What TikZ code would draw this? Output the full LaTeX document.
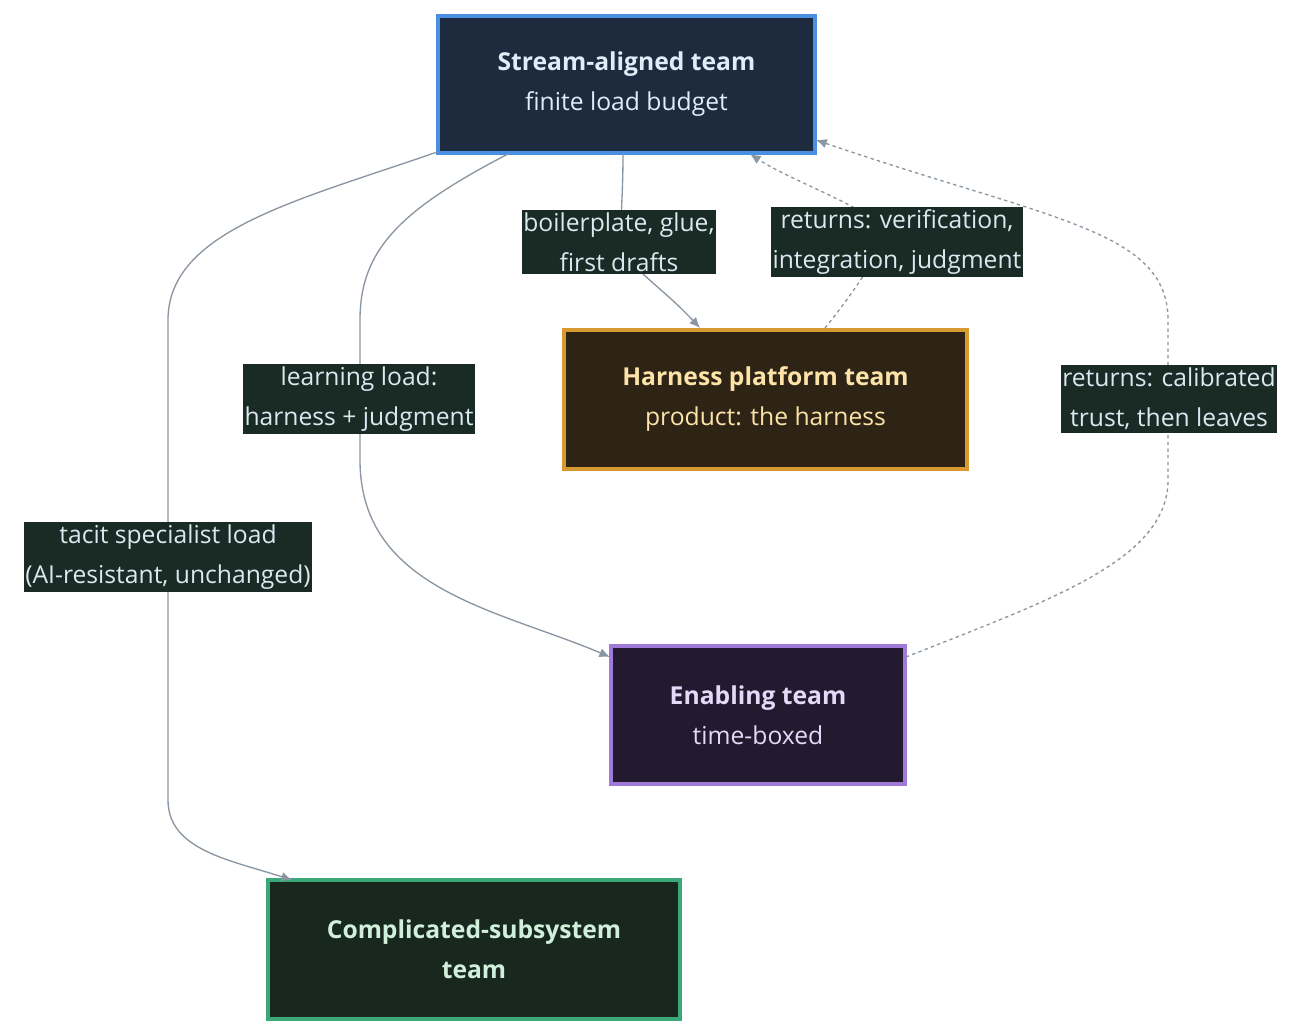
\documentclass[tikz,border=0pt]{standalone}
\usepackage{fontspec}
\setmainfont{Open Sans}
\usetikzlibrary{arrows.meta}
\definecolor{edge}{HTML}{8A96A2}
\definecolor{lblbg}{HTML}{1A2A24}
\definecolor{lbltx}{HTML}{DCE8F0}
\definecolor{sB}{HTML}{4A90E2}\definecolor{sF}{HTML}{1E2A3E}\definecolor{sT}{HTML}{E0ECF8}
\definecolor{hB}{HTML}{D89A30}\definecolor{hF}{HTML}{2D2416}\definecolor{hT}{HTML}{FDE3A8}
\definecolor{nB}{HTML}{A07AD8}\definecolor{nF}{HTML}{231A30}\definecolor{nT}{HTML}{E6D8F8}
\definecolor{cB}{HTML}{3AA878}\definecolor{cF}{HTML}{18281F}\definecolor{cT}{HTML}{D0F0DC}
\begin{document}
\begin{tikzpicture}[x=0.75pt,y=-0.75pt,
  box/.style={draw,line width=2.4pt,align=center,font=\fontsize{18.5}{30}\selectfont,inner sep=0pt},
  lbl/.style={fill=lblbg,text=lbltx,align=center,font=\fontsize{18.5}{30}\selectfont,inner xsep=1pt,inner ysep=2pt},
  e/.style={draw=edge,line width=1pt,-{Latex[length=8pt,width=7pt]}},
  d/.style={e,dash pattern=on 2.5pt off 2.5pt}]
\useasboundingbox (0,0) rectangle (1300,1035);
\fill[white] (0,0) rectangle (1300,1035);
\node[box,draw=sB,fill=sF,text=sT,minimum width=282.75pt,minimum height=102.75pt] (s) at (626.5,84.5) {\textbf{Stream-aligned team}\\finite load budget};
\node[box,draw=hB,fill=hF,text=hT,minimum width=302.25pt,minimum height=104.25pt] (h) at (765.5,399.5) {\textbf{Harness platform team}\\product: the harness};
\node[box,draw=nB,fill=nF,text=nT,minimum width=220.5pt,minimum height=103.5pt] (n) at (758,715) {\textbf{Enabling team}\\time-boxed};
\node[box,draw=cB,fill=cF,text=cT,minimum width=309pt,minimum height=104.25pt] (c) at (474,949.5) {\textbf{Complicated-subsystem}\\\textbf{team}};
\coordinate (s1) at (623,154); \coordinate (s2) at (750,154); \coordinate (s3) at (437,152);
\coordinate (s4) at (508,154); \coordinate (s5) at (816,140);
\coordinate (h1) at (700,328); \coordinate (h2) at (825,328);
\coordinate (n1) at (610,657); \coordinate (n2) at (906,657);
\coordinate (c1) at (292,880);
\draw[e] (s1) .. controls (623,180) and (622,200) .. (620,242) .. controls (630,270) and (660,285) .. (h1);
\draw[d] (h2) .. controls (860,285) and (880,250) .. (890,230) .. controls (850,200) and (790,180) .. (s2);
\draw[e] (s3) .. controls (300,200) and (168,230) .. (168,320) -- (168,800) .. controls (168,850) and (230,860) .. (c1);
\draw[e] (s4) .. controls (400,210) and (360,250) .. (360,320) -- (360,460) .. controls (360,590) and (500,610) .. (n1);
\draw[d] (n2) .. controls (1050,600) and (1168,560) .. (1168,480) -- (1168,320) .. controls (1168,230) and (1050,220) .. (s5);
\node[lbl] (l1) at (619,242) {boilerplate, glue,\\first drafts};
\node[lbl] (l2) at (897,242) {returns: verification,\\integration, judgment};
\node[lbl] (l3) at (359,399) {learning load:\\harness + judgment};
\node[lbl] (l4) at (1169,399) {returns: calibrated\\trust, then leaves};
\node[lbl] (l5) at (168,557) {tacit specialist load\\(AI-resistant, unchanged)};
\end{tikzpicture}
\end{document}
